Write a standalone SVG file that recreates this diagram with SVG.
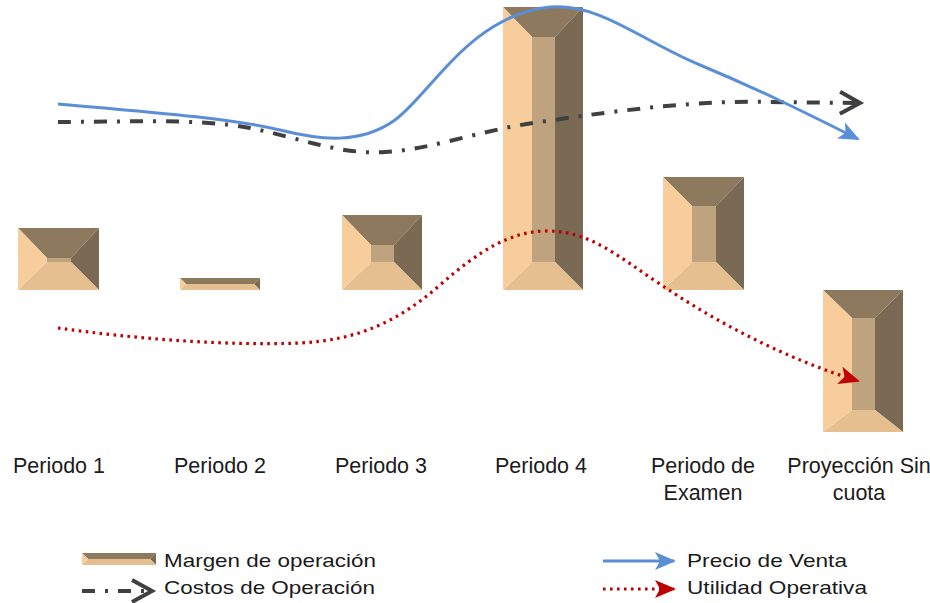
<svg xmlns="http://www.w3.org/2000/svg" width="930" height="603" viewBox="0 0 930 603">
<style>
.tf{fill:#8D7A5E}.rf{fill:#7B6A53}.bf{fill:#E5BF8F}.lf{fill:#F7CD9B}.in{fill:#BFA27E}
.lbl{font-family:"Liberation Sans",Arial,sans-serif;font-size:21.5px;fill:#1b1b1b;text-anchor:middle}
.leg{font-family:"Liberation Sans",Arial,sans-serif;font-size:19px;fill:#1b1b1b}
.blue{fill:none;stroke:#5A8FD8;stroke-width:3}
.gray{fill:none;stroke:#404040;stroke-width:4;stroke-dasharray:13 10 3 10}
.red{fill:none;stroke:#C00000;stroke-width:3.2;stroke-dasharray:2.6 4.4}
</style>
<defs>
<marker id="mb" markerUnits="userSpaceOnUse" viewBox="-22 -10 24 20" refX="0" refY="0" markerWidth="24" markerHeight="20" orient="auto" overflow="visible">
<path d="M2,0 L-19,-9 L-14,0 L-19,9 Z" fill="#5A8FD8"/>
</marker>
<marker id="mr" markerUnits="userSpaceOnUse" viewBox="-22 -10 24 20" refX="0" refY="0" markerWidth="24" markerHeight="20" orient="auto" overflow="visible">
<path d="M2,0 L-19,-9 L-14,0 L-19,9 Z" fill="#C00000"/>
</marker>
<marker id="mg" markerUnits="userSpaceOnUse" viewBox="-24 -14 28 28" refX="0" refY="0" markerWidth="28" markerHeight="28" orient="auto" overflow="visible">
<path d="M-18,-11 L2,0 L-18,11" fill="none" stroke="#404040" stroke-width="4"/>
</marker>
</defs>

<g id="bar-periodo-1">
<polygon class="tf" points="18,228 99,228 71,258 47,258"/>
<polygon class="rf" points="99,228 99,290 71,262 71,258"/>
<polygon class="bf" points="18,290 99,290 71,262 47,262"/>
<polygon class="lf" points="18,228 47,258 47,262 18,290"/>
<rect class="in" x="47" y="258" width="24" height="4"/>
</g>
<g id="bar-periodo-2">
<polygon class="tf" points="180,278 260,278 254,284 186,284"/>
<polygon class="rf" points="260,278 260,290 254,284"/>
<polygon class="bf" points="180,290 260,290 254,284 186,284"/>
<polygon class="lf" points="180,278 186,284 180,290"/>
</g>
<g id="bar-periodo-3">
<polygon class="tf" points="342,215 422,215 394,245 371,245"/>
<polygon class="rf" points="422,215 422,290 394,262 394,245"/>
<polygon class="bf" points="342,290 422,290 394,262 371,262"/>
<polygon class="lf" points="342,215 371,245 371,262 342,290"/>
<rect class="in" x="371" y="245" width="23" height="17"/>
</g>
<g id="bar-periodo-4">
<polygon class="tf" points="503,7 583,7 555,37 532,37"/>
<polygon class="rf" points="583,7 583,290 555,262 555,37"/>
<polygon class="bf" points="503,290 583,290 555,262 532,262"/>
<polygon class="lf" points="503,7 532,37 532,262 503,290"/>
<rect class="in" x="532" y="37" width="23" height="225"/>
</g>
<g id="bar-periodo-examen">
<polygon class="tf" points="663,177 744,177 716,206 692,206"/>
<polygon class="rf" points="744,177 744,290 716,262 716,206"/>
<polygon class="bf" points="663,290 744,290 716,262 692,262"/>
<polygon class="lf" points="663,177 692,206 692,262 663,290"/>
<rect class="in" x="692" y="206" width="24" height="56"/>
</g>
<g id="bar-proyeccion">
<polygon class="tf" points="823,290 903,290 875,318 852,318"/>
<polygon class="rf" points="903,290 903,432 875,410 875,318"/>
<polygon class="bf" points="823,432 903,432 875,410 852,410"/>
<polygon class="lf" points="823,290 852,318 852,410 823,432"/>
<rect class="in" x="852" y="318" width="23" height="92"/>
</g>

<g id="connectors">
<path class="red" d="M58,328 C130,338 220,346 300,343 C360,340 400,320 440,285 C480,250 510,232 545,231 C590,230 620,258 660,284 C720,325 790,360 858,381" marker-end="url(#mr)"/>
<path class="gray" d="M58,122 C120,122 200,118 250,128 C300,138 340,155 385,152 C430,150 480,130 540,122 C620,110 700,100 770,102 L858,103" marker-end="url(#mg)"/>
<path class="blue" d="M58,104 C150,112 230,118 280,130 C320,140 360,145 395,120 C430,95 470,15 550,7 C600,3 640,40 700,65 C760,90 800,110 858,139" marker-end="url(#mb)"/>
</g>

<g id="labels">
<text class="lbl" x="59" y="473">Periodo 1</text>
<text class="lbl" x="220" y="473">Periodo 2</text>
<text class="lbl" x="381" y="473">Periodo 3</text>
<text class="lbl" x="541" y="473">Periodo 4</text>
<text class="lbl" x="703" y="473">Periodo de</text>
<text class="lbl" x="703" y="500">Examen</text>
<text class="lbl" x="859" y="473">Proyección Sin</text>
<text class="lbl" x="859" y="500">cuota</text>
</g>

<g id="legend">
<g id="legend-margen">
<polygon class="tf" points="82,553 156,553 150,559 88,559"/>
<polygon class="rf" points="156,553 156,565 150,559"/>
<polygon class="bf" points="82,565 156,565 150,559 88,559"/>
<polygon class="lf" points="82,553 88,559 82,565"/>
<text class="leg" x="164" y="567" textLength="212" lengthAdjust="spacingAndGlyphs">Margen de operación</text>
</g>
<g id="legend-costos">
<path class="gray" d="M82,591 L150,591" marker-end="url(#mg)"/>
<text class="leg" x="164" y="594" textLength="211" lengthAdjust="spacingAndGlyphs">Costos de Operación</text>
</g>
<g id="legend-precio">
<path class="blue" d="M603,561 L674,561" marker-end="url(#mb)"/>
<text class="leg" x="687" y="567" textLength="160" lengthAdjust="spacingAndGlyphs">Precio de Venta</text>
</g>
<g id="legend-utilidad">
<path class="red" d="M603,589 L674,589" marker-end="url(#mr)"/>
<text class="leg" x="687" y="594" textLength="180" lengthAdjust="spacingAndGlyphs">Utilidad Operativa</text>
</g>
</g>
</svg>
